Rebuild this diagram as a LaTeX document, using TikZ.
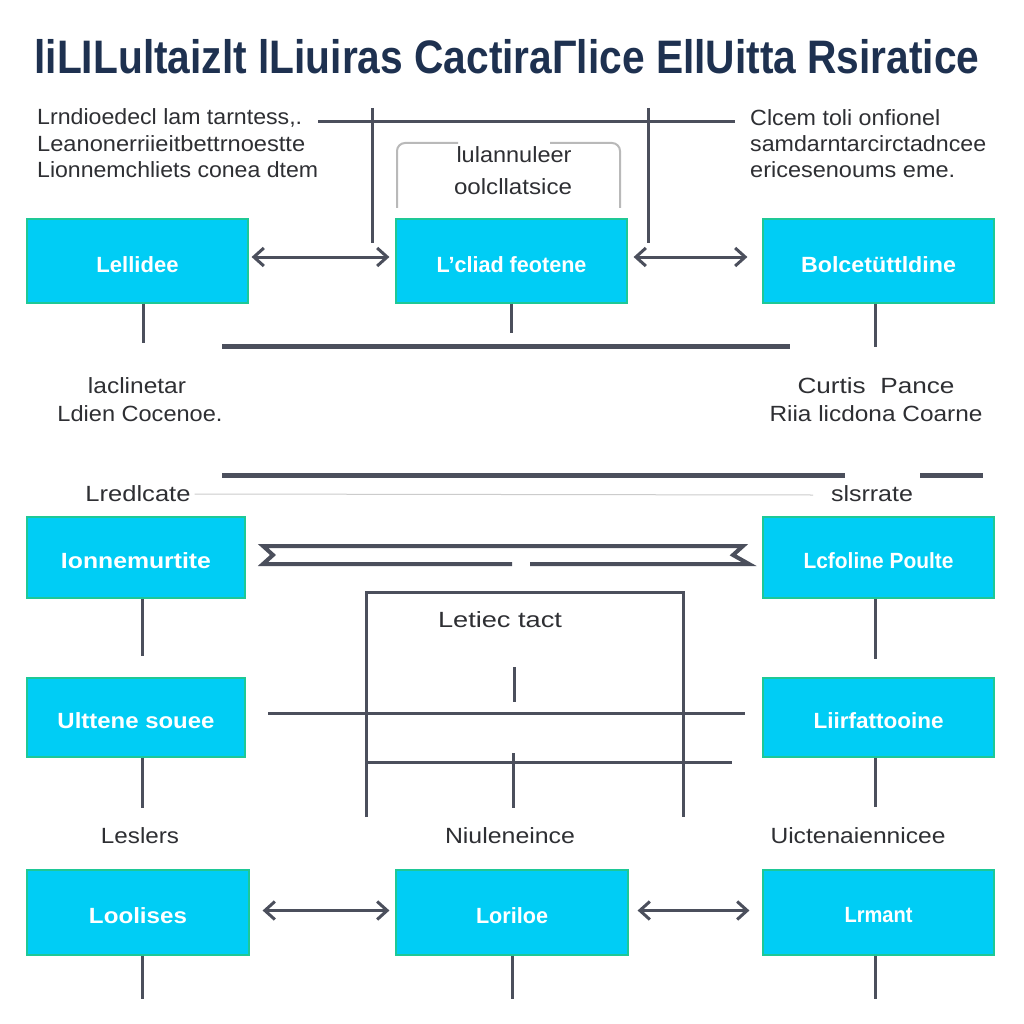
\documentclass[tikz,border=0pt]{standalone}
\usepackage{fontspec}
\setmainfont{Liberation Sans}
\usepackage{graphicx}
\usetikzlibrary{arrows.meta}

\definecolor{titleblue}{HTML}{1E3150}
\definecolor{txt}{HTML}{2E2F33}
\definecolor{ln}{HTML}{4B4F5C}
\definecolor{boxfill}{RGB}{0,205,245}
\definecolor{boxedge}{RGB}{30,200,150}

% squeeze a text horizontally to a given width (in pt), keeping its height
\newcommand\fitw[2]{\resizebox{#1pt}{\height}{#2}}
% box caption: squeezed and set a little below the middle
\newcommand\blab[3][3]{\raisebox{-#1pt}[\height][\depth]{\fitw{#2}{#3}}}

\tikzset{
  cbox/.style={draw=boxedge, fill=boxfill, line width=1.2pt, inner sep=0pt,
    font=\fontsize{22}{26}\selectfont\bfseries, text=white},
  lbl/.style={font=\fontsize{22}{26}\selectfont, text=txt, inner sep=0pt},
  conn/.style={draw=ln, line width=3pt},
  heavy/.style={draw=ln, line width=5pt},
  biarrow/.style={conn, {Straight Barb[length=10pt,width=18pt]}-{Straight Barb[length=10pt,width=18pt]}},
}

\begin{document}
\begin{tikzpicture}[x=1pt, y=-1pt]
\useasboundingbox[fill=white] (0,0) rectangle (1024,1024);

% title
\node[font=\fontsize{47}{50}\selectfont\bfseries, text=titleblue, inner sep=0pt] (title) at (507,57)
  {\fitw{945}{liLILultaizlt lLiuiras CactiraΓlice EllUitta Rsiratice}};

% upper left note
\node[lbl, anchor=west] (nl1) at (37,118) {\fitw{265}{Lrndioedecl lam tarntess,.}};
\node[lbl, anchor=west] (nl2) at (37,144) {\fitw{268}{Leanonerriieitbettrnoestte}};
\node[lbl, anchor=west] (nl3) at (37,170) {\fitw{281}{Lionnemchliets conea dtem}};

% upper right note
\node[lbl, anchor=west] (nr1) at (750,118) {\fitw{190}{Clcem toli onfionel}};
\node[lbl, anchor=west] (nr2) at (750,144) {\fitw{236}{samdarntarcirctadncee}};
\node[lbl, anchor=west] (nr3) at (750,170) {\fitw{205}{ericesenoums eme.}};

% bracketed caption over the centre box
\node[lbl] (cap1) at (514,155) {\fitw{115}{lulannuleer}};
\node[lbl] (cap2) at (513,187) {\fitw{118}{oolcllatsice}};
\draw[gray!55, line width=2pt, rounded corners=8pt] (397,208) -- (397,143) -- (458,143);
\draw[gray!55, line width=2pt, rounded corners=8pt] (550,143) -- (620,143) -- (620,208);

% top rail
\coordinate (railL) at (318,122);
\coordinate (railR) at (735,122);
\draw[conn] (railL) -- (railR);
\coordinate (dropAtop) at (372,108);
\coordinate (dropAbot) at (372,243);
\coordinate (dropBtop) at (648,108);
\coordinate (dropBbot) at (648,243);
\draw[conn] (dropAtop) -- (dropAbot);
\draw[conn] (dropBtop) -- (dropBbot);

% first row of boxes
\node[cbox, minimum width=221pt, minimum height=84pt] (b11) at (137.5,261) {\blab[4]{82}{Lellidee}};
\node[cbox, minimum width=231pt, minimum height=84pt] (b12) at (511.5,261) {\blab[4]{150}{L'cliad feotene}};
\node[cbox, minimum width=231pt, minimum height=84pt] (b13) at (878.5,261) {\blab[4]{155}{Bolcetüttldine}};

\draw[biarrow, shorten <=3pt, shorten >=6pt] ([yshift=4pt]b11.east) -- ([yshift=4pt]b12.west);
\draw[biarrow, shorten <=6pt, shorten >=15pt] ([yshift=4pt]b12.east) -- ([yshift=4pt]b13.west);

\draw[conn] ([xshift=5.5pt]b11.south) -- ++(0,39);
\draw[conn] (b12.south) -- ++(0,29);
\draw[conn] ([xshift=-3.5pt]b13.south) -- ++(0,43);

% middle bars and notes
\draw[heavy] (222,346) -- (790,346);
\node[lbl] (ml1) at (137,386) {\fitw{98}{laclinetar}};
\node[lbl] (ml2) at (140,414) {\fitw{165}{Ldien Cocenoe.}};
\node[lbl] (mr1) at (876,386) {\fitw{157}{Curtis\ \ Pance}};
\node[lbl] (mr2) at (876,414) {\fitw{213}{Riia licdona Coarne}};

\draw[heavy] (222,475) -- (845,475);
\draw[heavy] (920,475) -- (983,475);
\node[lbl] (sl) at (138,494) {\fitw{105}{Lredlcate}};
\node[lbl] (sr) at (872,494) {\fitw{82}{slsrrate}};
\draw[gray!40, line width=1pt] (sl.east) ++(4pt,0) -- (813,495);

% second row of boxes
\node[cbox, minimum width=218pt, minimum height=81pt] (b21) at (136,557.5) {\blab{150}{Ionnemurtite}};
\node[cbox, minimum width=231pt, minimum height=81pt] (b22) at (878.5,557.5) {\blab{150}{Lcfoline Poulte}};

% notched band between them
\draw[conn, line width=4pt, line join=miter] (512,564) -- (263,564) -- (273,555) -- (263,546)
  -- (743,546) -- (733,555) -- (749,564) -- (530,564);

% framed block in the centre
\draw[conn] (366,817) -- (366,592) -- (683,592) -- (683,817);
\node[lbl] (frame) at (500,620) {\fitw{124}{Letiec tact}};
\draw[conn] (514,667) -- (514,702);
\draw[conn] (268,713) -- (745,713);
\draw[conn] (366,762) -- (732,762);
\draw[conn] (513,753) -- (513,808);

\draw[conn] ([xshift=6pt]b21.south) -- ++(0,57);
\draw[conn] ([xshift=-3.5pt]b22.south) -- ++(0,60);

% third row of boxes
\node[cbox, minimum width=218pt, minimum height=79pt] (b31) at (136,717.5) {\blab{157}{Ulttene souee}};
\node[cbox, minimum width=231pt, minimum height=79pt] (b32) at (878.5,717.5) {\blab{130}{Liirfattooine}};
\draw[conn] ([xshift=6pt]b31.south) -- ++(0,50);
\draw[conn] ([xshift=-3.5pt]b32.south) -- ++(0,49);

% labels over the bottom row
\node[lbl] (t1) at (140,836) {\fitw{78}{Leslers}};
\node[lbl] (t2) at (510,836) {\fitw{130}{Niuleneince}};
\node[lbl] (t3) at (858,836) {\fitw{175}{Uictenaiennicee}};

% bottom row of boxes
\node[cbox, minimum width=222pt, minimum height=85pt] (b41) at (138,912.5) {\blab{98}{Loolises}};
\node[cbox, minimum width=232pt, minimum height=85pt] (b42) at (512,912.5) {\blab{72}{Loriloe}};
\node[cbox, minimum width=231pt, minimum height=85pt] (b43) at (878.5,912.5) {\blab{68}{Lrmant}};

\draw[biarrow, shorten <=13pt, shorten >=6pt] ([yshift=2pt]b41.east) -- ([yshift=2pt]b42.west);
\draw[biarrow, shorten <=9pt, shorten >=13pt] ([yshift=2pt]b42.east) -- ([yshift=2pt]b43.west);

\draw[conn] ([xshift=4pt]b41.south) -- ++(0,43);
\draw[conn] (b42.south) -- ++(0,43);
\draw[conn] ([xshift=-3.5pt]b43.south) -- ++(0,43);
\end{tikzpicture}
\end{document}
